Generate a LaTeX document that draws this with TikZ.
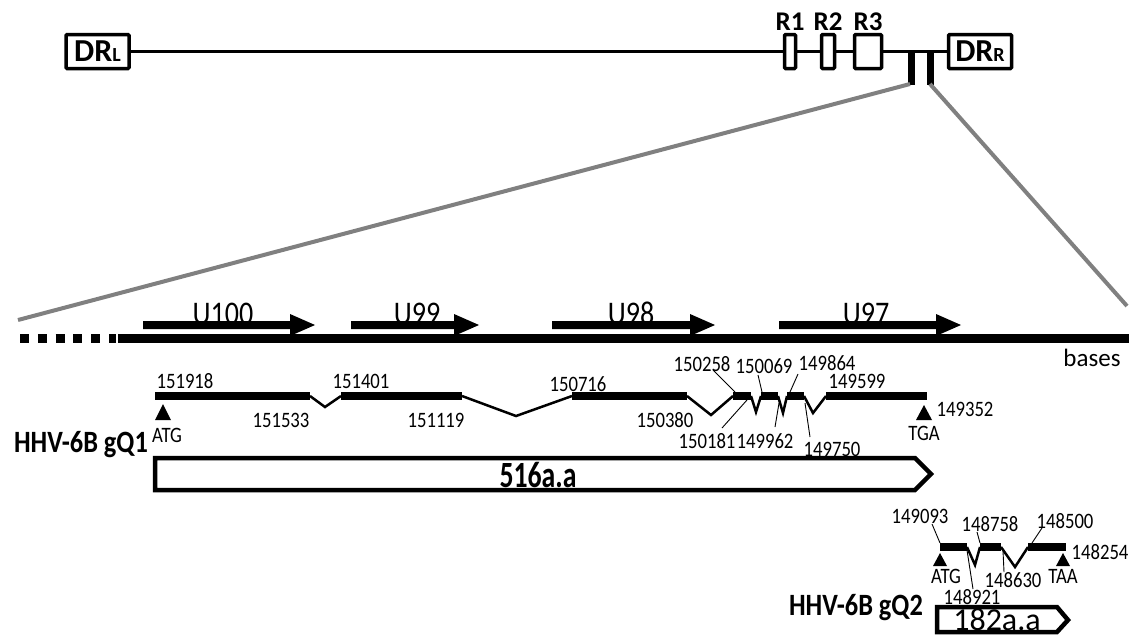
\documentclass[tikz,border=0pt]{standalone}
\usepackage{fontspec}
\setmainfont{Carlito}
\newfontfamily\cond[FakeStretch=0.85]{Carlito}
\newfontfamily\narrow[FakeStretch=0.75]{Carlito}
\newcommand\FS[1]{\fontsize{#1}{#1}\selectfont}
\definecolor{greyline}{RGB}{128,128,128}
\tikzset{
  num/.style={font=\cond\FS{22}, inner sep=0pt},
  topbox/.style={draw, line width=3.5pt, fill=white, inner sep=0pt, rounded corners=1pt, minimum height=34pt},
  toplbl/.style={font=\bfseries\FS{27}, inner sep=0pt},
  topline/.style={line width=3.2pt},
  exon/.style={line width=8pt},
  intron/.style={line width=2.5pt, line join=miter},
  lead/.style={line width=0.9pt},
  greyl/.style={line width=4pt, color=greyline},
  prot/.style={draw, line width=4.5pt, line join=miter, fill=white},
  ulbl/.style={font=\cond\FS{33}, inner sep=0pt, anchor=base},
  codon/.style={font=\cond\FS{22}, inner sep=0pt},
  genename/.style={font=\cond\bfseries\FS{31}, inner sep=0pt},
}
\begin{document}
\begin{tikzpicture}[x=1pt,y=-1pt]
\useasboundingbox (0,0) rectangle (1129,641);
% ---------- top genome map ----------
\node[topbox, minimum width=63pt] (drl) at (97.5,51.5) {\bfseries\FS{32}DR{\FS{20}L}};
\node[topbox, minimum width=11pt] (r1) at (790,51.5) {};
\node[topbox, minimum width=13pt] (r2) at (828,51.5) {};
\node[topbox, minimum width=27pt] (r3) at (868,51.5) {};
\node[topbox, minimum width=63pt] (drr) at (980,51.5) {\bfseries\FS{32}DR{\FS{20}R}};
\draw[topline] (drl.east) -- (r1.west);
\draw[topline] (r1.east) -- (r2.west);
\draw[topline] (r2.east) -- (r3.west);
\draw[topline] (r3.east) -- (drr.west);
\node[toplbl] (r1l) at (790,22) {R1};
\node[toplbl] (r2l) at (828,22) {R2};
\node[toplbl] (r3l) at (868,22) {R3};
\coordinate (b1t) at (911.5,51.5);
\coordinate (b1b) at (911.5,85);
\coordinate (b2t) at (930,51.5);
\coordinate (b2b) at (930,85);
\draw[line width=7pt] (b1t) -- (b1b);
\draw[line width=7pt] (b2t) -- (b2b);
% zoom lines
\coordinate (zl) at (18,320);
\coordinate (zr) at (1127,306);
\draw[greyl] (910,84) -- (zl);
\draw[greyl] (930,84) -- (zr);
% ---------- expanded region ----------
\node[ulbl] (u100) at (223,324) {U100};
\node[ulbl] (u99) at (417,324) {U99};
\node[ulbl] (u98) at (631,324) {U98};
\node[ulbl] (u97) at (866,324) {U97};
\fill (143,321) -- (290,321) -- (290,314) -- (315,325) -- (290,336) -- (290,329) -- (143,329) -- cycle;
\fill (351,321) -- (454,321) -- (454,314) -- (479,325) -- (454,336) -- (454,329) -- (351,329) -- cycle;
\fill (552,321) -- (690,321) -- (690,314) -- (715,325) -- (690,336) -- (690,329) -- (552,329) -- cycle;
\fill (779,321) -- (936,321) -- (936,314) -- (961,325) -- (936,336) -- (936,329) -- (779,329) -- cycle;
\draw[line width=9pt, dash pattern=on 9pt off 8.8pt] (20,338) -- (116,338);
\draw[line width=9pt] (118,338) -- (1129,338);
\node[font=\FS{25}, inner sep=0pt] (bases) at (1092,358) {bases};
% ---------- gQ1 ----------
\draw[exon] (155,396) -- (310,396);
\draw[intron] (310,396) -- (325,407) -- (341,396);
\draw[exon] (341,396) -- (462,396);
\draw[intron] (462,396) -- (516,416) -- (572,396);
\draw[exon] (572,396) -- (687,396);
\draw[intron] (687,396) -- (711,415) -- (733,396);
\draw[exon] (733,396) -- (751,396);
\draw[intron] (751,396) -- (756,412) -- (761,396);
\draw[exon] (761,396) -- (778,396);
\draw[intron] (778,396) -- (783,413) -- (787,396);
\draw[exon] (787,396) -- (804,396);
\draw[intron] (804,396) -- (813,413) -- (826,396);
\draw[exon] (826,396) -- (927,396);
\fill (163,404) -- (171,420) -- (155,420) -- cycle;
\fill (924,405) -- (932,420) -- (916,420) -- cycle;
\node[codon] (atg1) at (167,435) {ATG};
\node[codon] (tga1) at (924,433) {TGA};
\node[num] (n151918) at (185,381) {151918};
\node[num] (n151533) at (281,420) {151533};
\node[num] (n151401) at (361,381) {151401};
\node[num] (n151119) at (436,420) {151119};
\node[num] (n150716) at (578,384) {150716};
\node[num] (n150380) at (665,420) {150380};
\node[num] (n150258) at (702,364) {150258};
\node[num] (n150069) at (764,366) {150069};
\node[num] (n149864) at (827,363) {149864};
\node[num] (n149599) at (857,381) {149599};
\node[num] (n150181) at (707,441) {150181};
\node[num] (n149962) at (765,441) {149962};
\node[num] (n149750) at (832,449) {149750};
\node[num] (n149352) at (965,409) {149352};
\coordinate (e4s) at (735,392);
\coordinate (e5s) at (762,392);
\coordinate (e6s) at (790,392);
\coordinate (e4e) at (747,400);
\coordinate (e5e) at (779,403);
\coordinate (e6e) at (805,403);
\draw[lead] (713,370) -- (e4s);
\draw[lead] (758,375) -- (e5s);
\draw[lead] (798,374) -- (e6s);
\draw[lead] (722,428) -- (e4e);
\draw[lead] (775,427) -- (e5e);
\draw[lead] (810,437) -- (e6e);
\node[genename] (gq1) at (81,445) {HHV-6B gQ1};
\draw[prot] (155,458) -- (915,458) -- (931,474) -- (915,490) -- (155,490) -- cycle;
\node[font=\narrow\bfseries\FS{37}, inner sep=0pt] (aa516) at (538,475) {516a.a};
% ---------- gQ2 ----------
\draw[exon] (940,547) -- (967,547);
\draw[intron] (967,547) -- (975,565) -- (980,547);
\draw[exon] (980,547) -- (1001,547);
\draw[intron] (1001,547) -- (1015,567) -- (1028,547);
\draw[exon] (1028,547) -- (1066,547);
\fill (940,553) -- (947,566) -- (933,566) -- cycle;
\fill (1063,553) -- (1070,566) -- (1056,566) -- cycle;
\node[codon] (atg2) at (946,576) {ATG};
\node[codon] (taa2) at (1063,576) {TAA};
\node[num] (n149093) at (920,516) {149093};
\node[num] (n148758) at (990,524) {148758};
\node[num] (n148500) at (1065,521) {148500};
\node[num] (n148254) at (1100,552) {148254};
\node[num] (n148921) at (972,597) {148921};
\node[num] (n148630) at (1013,580) {148630};
\coordinate (g1s) at (940,543);
\coordinate (g2s) at (980,543);
\coordinate (g3s) at (1032,543);
\coordinate (g1e) at (967,550);
\coordinate (g2e) at (1003,551);
\draw[lead] (973,589) -- (g1e);
\draw[lead] (932,524) -- (g1s);
\draw[lead] (977,532) -- (g2s);
\draw[lead] (1042,528) -- (g3s);
\draw[lead] (1004,572) -- (g2e);
\node[genename] (gq2) at (856,608) {HHV-6B gQ2};
\draw[prot] (937,607) -- (1057,607) -- (1068,620) -- (1057,632) -- (937,632) -- cycle;
\node[font=\FS{32}, inner sep=0pt] (aa182) at (997,620) {182a.a};
\end{tikzpicture}
\end{document}
